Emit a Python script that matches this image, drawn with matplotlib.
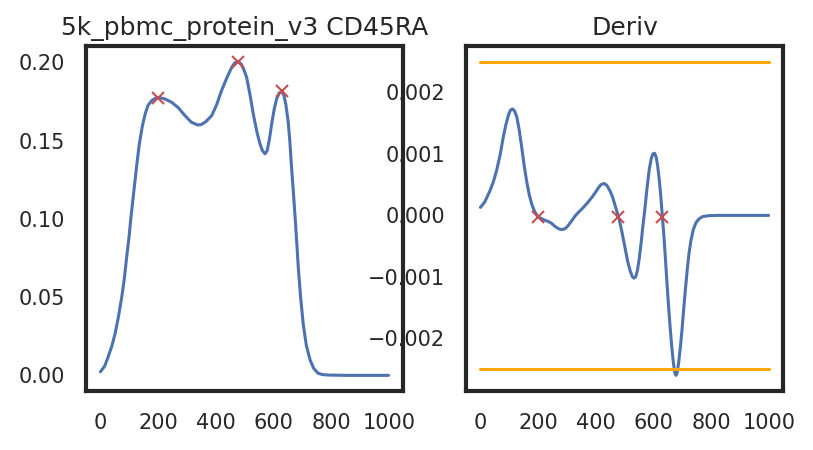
import numpy as np
import matplotlib.pyplot as plt
import seaborn as sns

# плотность
dens_x = [0, 15, 27, 40, 51, 62, 74, 83, 91, 99, 106, 113, 120, 127, 135, 145, 155,
          165, 178, 190, 200, 212, 225, 247, 270, 293, 315, 337, 350, 365, 386, 403,
          420, 438, 455, 465, 477, 488, 498, 507, 518, 530, 542, 553, 562, 571, 578,
          586, 594, 603, 611, 620, 629, 636, 643, 651, 657, 663, 669, 675, 681, 686,
          694, 703, 714, 727, 740, 755, 770, 790, 850, 925, 999]
dens_y = [0.0023, 0.006, 0.0119, 0.019, 0.0268, 0.037, 0.0501, 0.062, 0.0756, 0.088,
          0.1012, 0.113, 0.1246, 0.136, 0.148, 0.159, 0.167, 0.1725, 0.1756, 0.1770,
          0.1775, 0.1772, 0.1765, 0.1745, 0.171, 0.166, 0.1618, 0.160, 0.1603, 0.162,
          0.166, 0.173, 0.182, 0.190, 0.1968, 0.1995, 0.2005, 0.199, 0.195, 0.1904,
          0.180, 0.167, 0.156, 0.148, 0.1435, 0.1416, 0.1435, 0.151, 0.161, 0.1705,
          0.1767, 0.1805, 0.1815, 0.179, 0.173, 0.162, 0.149, 0.132, 0.117, 0.101,
          0.084, 0.069, 0.050, 0.033, 0.019, 0.0098, 0.0043, 0.0013, 0.0005, 0.0002,
          0.0, 0.0, 0.0]

# производная (в единицах 1e-3)
deriv_x = [0, 15, 33, 45, 56, 68, 79, 88, 97, 104, 111, 118, 126, 134, 143, 151, 160,
           169, 178, 188, 199, 210, 224, 236, 247, 256, 265, 275, 285, 295, 305, 316,
           328, 342, 357, 372, 386, 398, 409, 418, 428, 438, 449, 458, 467, 474, 481,
           491, 501, 510, 519, 526, 532, 538, 544, 550, 557, 563, 570, 577, 585, 592,
           598, 604, 609, 614, 619, 625, 630, 636, 641, 646, 651, 657, 663, 669, 674,
           678, 682, 687, 693, 699, 705, 711, 717, 723, 730, 738, 747, 757, 770, 790,
           820, 900, 999]
deriv_y = [0.13, 0.22, 0.40, 0.55, 0.73, 0.98, 1.27, 1.47, 1.63, 1.71, 1.73, 1.70,
           1.60, 1.40, 1.11, 0.83, 0.56, 0.34, 0.18, 0.06, -0.02, -0.05, -0.08, -0.10,
           -0.13, -0.17, -0.20, -0.225, -0.23, -0.21, -0.16, -0.09, -0.01, 0.06, 0.13,
           0.21, 0.29, 0.37, 0.45, 0.50, 0.52, 0.49, 0.40, 0.30, 0.16, 0.05, -0.06,
           -0.28, -0.52, -0.74, -0.90, -0.99, -1.02, -1.00, -0.90, -0.72, -0.45, -0.18,
           0.10, 0.42, 0.74, 0.92, 1.00, 1.01, 0.95, 0.82, 0.62, 0.33, 0.02, -0.33,
           -0.68, -1.05, -1.40, -1.78, -2.12, -2.40, -2.56, -2.60, -2.55, -2.40, -2.15,
           -1.85, -1.50, -1.18, -0.88, -0.62, -0.40, -0.23, -0.12, -0.06, -0.02, -0.005,
           0.0, 0.0, 0.0]

# пики
peaks_x = [200, 478, 630]
peaks_y = [0.1775, 0.2005, 0.1815]
peaks_d = [-0.02, -0.02, -0.02]

thresh = 0.0025
title = '5k_pbmc_protein_v3 CD45RA'

deriv_y = np.array(deriv_y) * 1e-3
peaks_d = np.array(peaks_d) * 1e-3

sns.set_style('white')
plt.rcParams['font.family'] = ['DejaVu Sans']
plt.rcParams['axes.edgecolor'] = '#262626'
plt.rcParams['axes.linewidth'] = 3.0
plt.rcParams['text.color'] = '#262626'
plt.rcParams['xtick.color'] = '#262626'
plt.rcParams['ytick.color'] = '#262626'
plt.rcParams['xtick.major.size'] = 0
plt.rcParams['ytick.major.size'] = 0
plt.rcParams['xtick.major.pad'] = 16
plt.rcParams['ytick.major.pad'] = 15
plt.rcParams['xtick.labelsize'] = 15
plt.rcParams['ytick.labelsize'] = 15
plt.rcParams['axes.titlesize'] = 18
plt.rcParams['axes.titlepad'] = 8

fig, (ax1, ax2) = plt.subplots(1, 2, figsize=(8.13, 4.5), dpi=100)
fig.subplots_adjust(left=0.1058, right=0.9631, bottom=0.131, top=0.898, wspace=0.199)

# 1. плотность
ax1.plot(dens_x, dens_y, color='#4c72b0', lw=2.2)
ax1.plot(peaks_x, peaks_y, 'x', color='#c44e52', ms=9, mew=1.5)
ax1.set_title(title)
ax1.set_xticks([0, 200, 400, 600, 800, 1000])

# 2. производная
ax2.plot(deriv_x, deriv_y, color='#4c72b0', lw=2.2)
ax2.plot(peaks_x, peaks_d, 'x', color='#c44e52', ms=9, mew=1.5)
ax2.plot([0, 999], [thresh, thresh], color='orange', lw=2.2)
ax2.plot([0, 999], [-thresh, -thresh], color='orange', lw=2.2)
ax2.set_title('Deriv')
ax2.set_xticks([0, 200, 400, 600, 800, 1000])

fig.savefig('out.png', dpi=100)
